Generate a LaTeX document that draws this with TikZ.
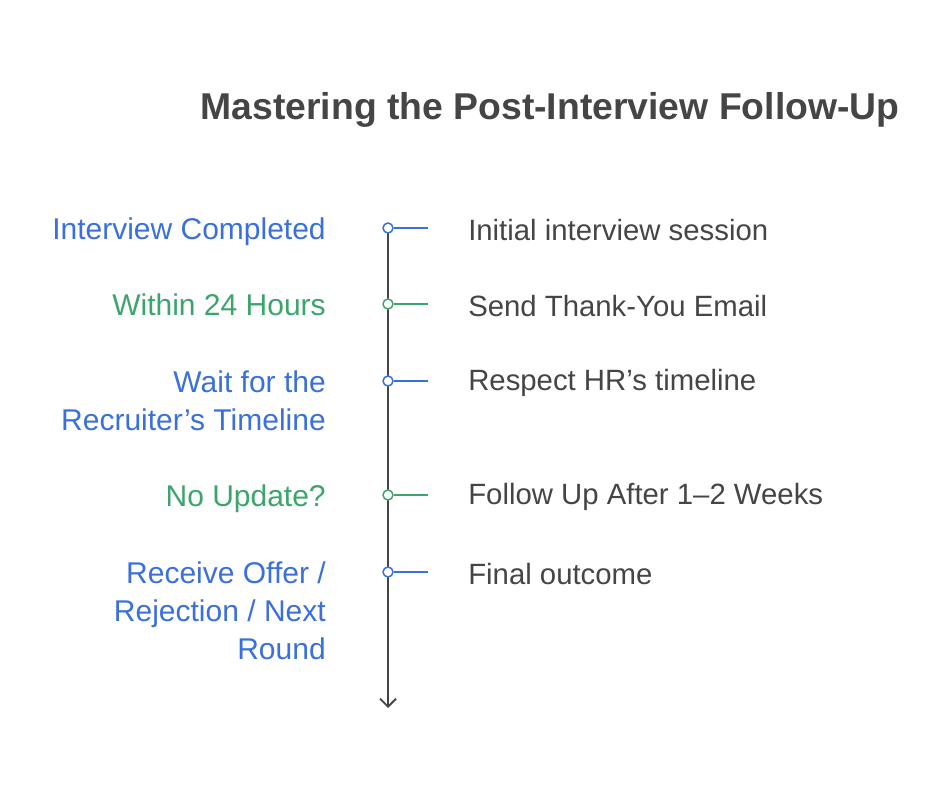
\documentclass[tikz,border=0pt]{standalone}
\usepackage{fontspec}
\usetikzlibrary{arrows.meta}
\setmainfont{Liberation Sans}
\definecolor{cb}{HTML}{3A70DB}
\definecolor{cg}{HTML}{3BA56C}
\definecolor{tx}{HTML}{454545}
\begin{document}
\begin{tikzpicture}[x=0.75pt,y=-0.75pt,
 lab/.style={anchor=north east,align=right,inner sep=0pt,font=\fontsize{22.5}{28.5}\selectfont},
 desc/.style={anchor=west,text=tx,inner sep=0pt,font=\fontsize{22}{28.5}\selectfont},
 mk/.style={circle,draw,fill=white,line width=1.1pt,inner sep=0pt,minimum size=7.5pt},
 tick/.style={line width=1.3pt}]
\useasboundingbox (0,0) rectangle (940,788);
\node[text=tx,font=\bfseries\fontsize{28}{32}\selectfont] (title) at (550,110) {Mastering the Post-Interview Follow-Up};
\coordinate (top) at (388,226);
\coordinate (bot) at (388,708);
\draw[line width=1.4pt,draw=tx,-{Straight Barb[length=6pt,width=12pt]}] (top) -- (bot);
\foreach \n/\y/\c in {a/228/cb,b/304/cg,c/381/cb,d/495/cg,e/572/cb}{
 \node[mk,draw=\c] (m\n) at (388,\y) {};
 \coordinate (t\n) at (428,\y);
 \draw[tick,\c] (m\n) -- (t\n);
}
\node[lab,text=cb] (la) at (326,217) {Interview Completed};
\node[lab,text=cg] (lb) at (326,293) {Within 24 Hours};
\node[lab,text=cb] (lc) at (326,370) {Wait for the\\Recruiter's Timeline};
\node[lab,text=cg] (ld) at (326,484) {No Update?};
\node[lab,text=cb] (le) at (326,561) {Receive Offer /\\Rejection / Next\\Round};
\node[desc] (da) at (468,230) {Initial interview session};
\node[desc] (db) at (468,306) {Send Thank-You Email};
\node[desc] (dc) at (468,383) {Respect HR's timeline};
\node[desc] (dd) at (468,497) {Follow Up After 1–2 Weeks};
\node[desc] (de) at (468,574) {Final outcome};
\end{tikzpicture}
\end{document}
